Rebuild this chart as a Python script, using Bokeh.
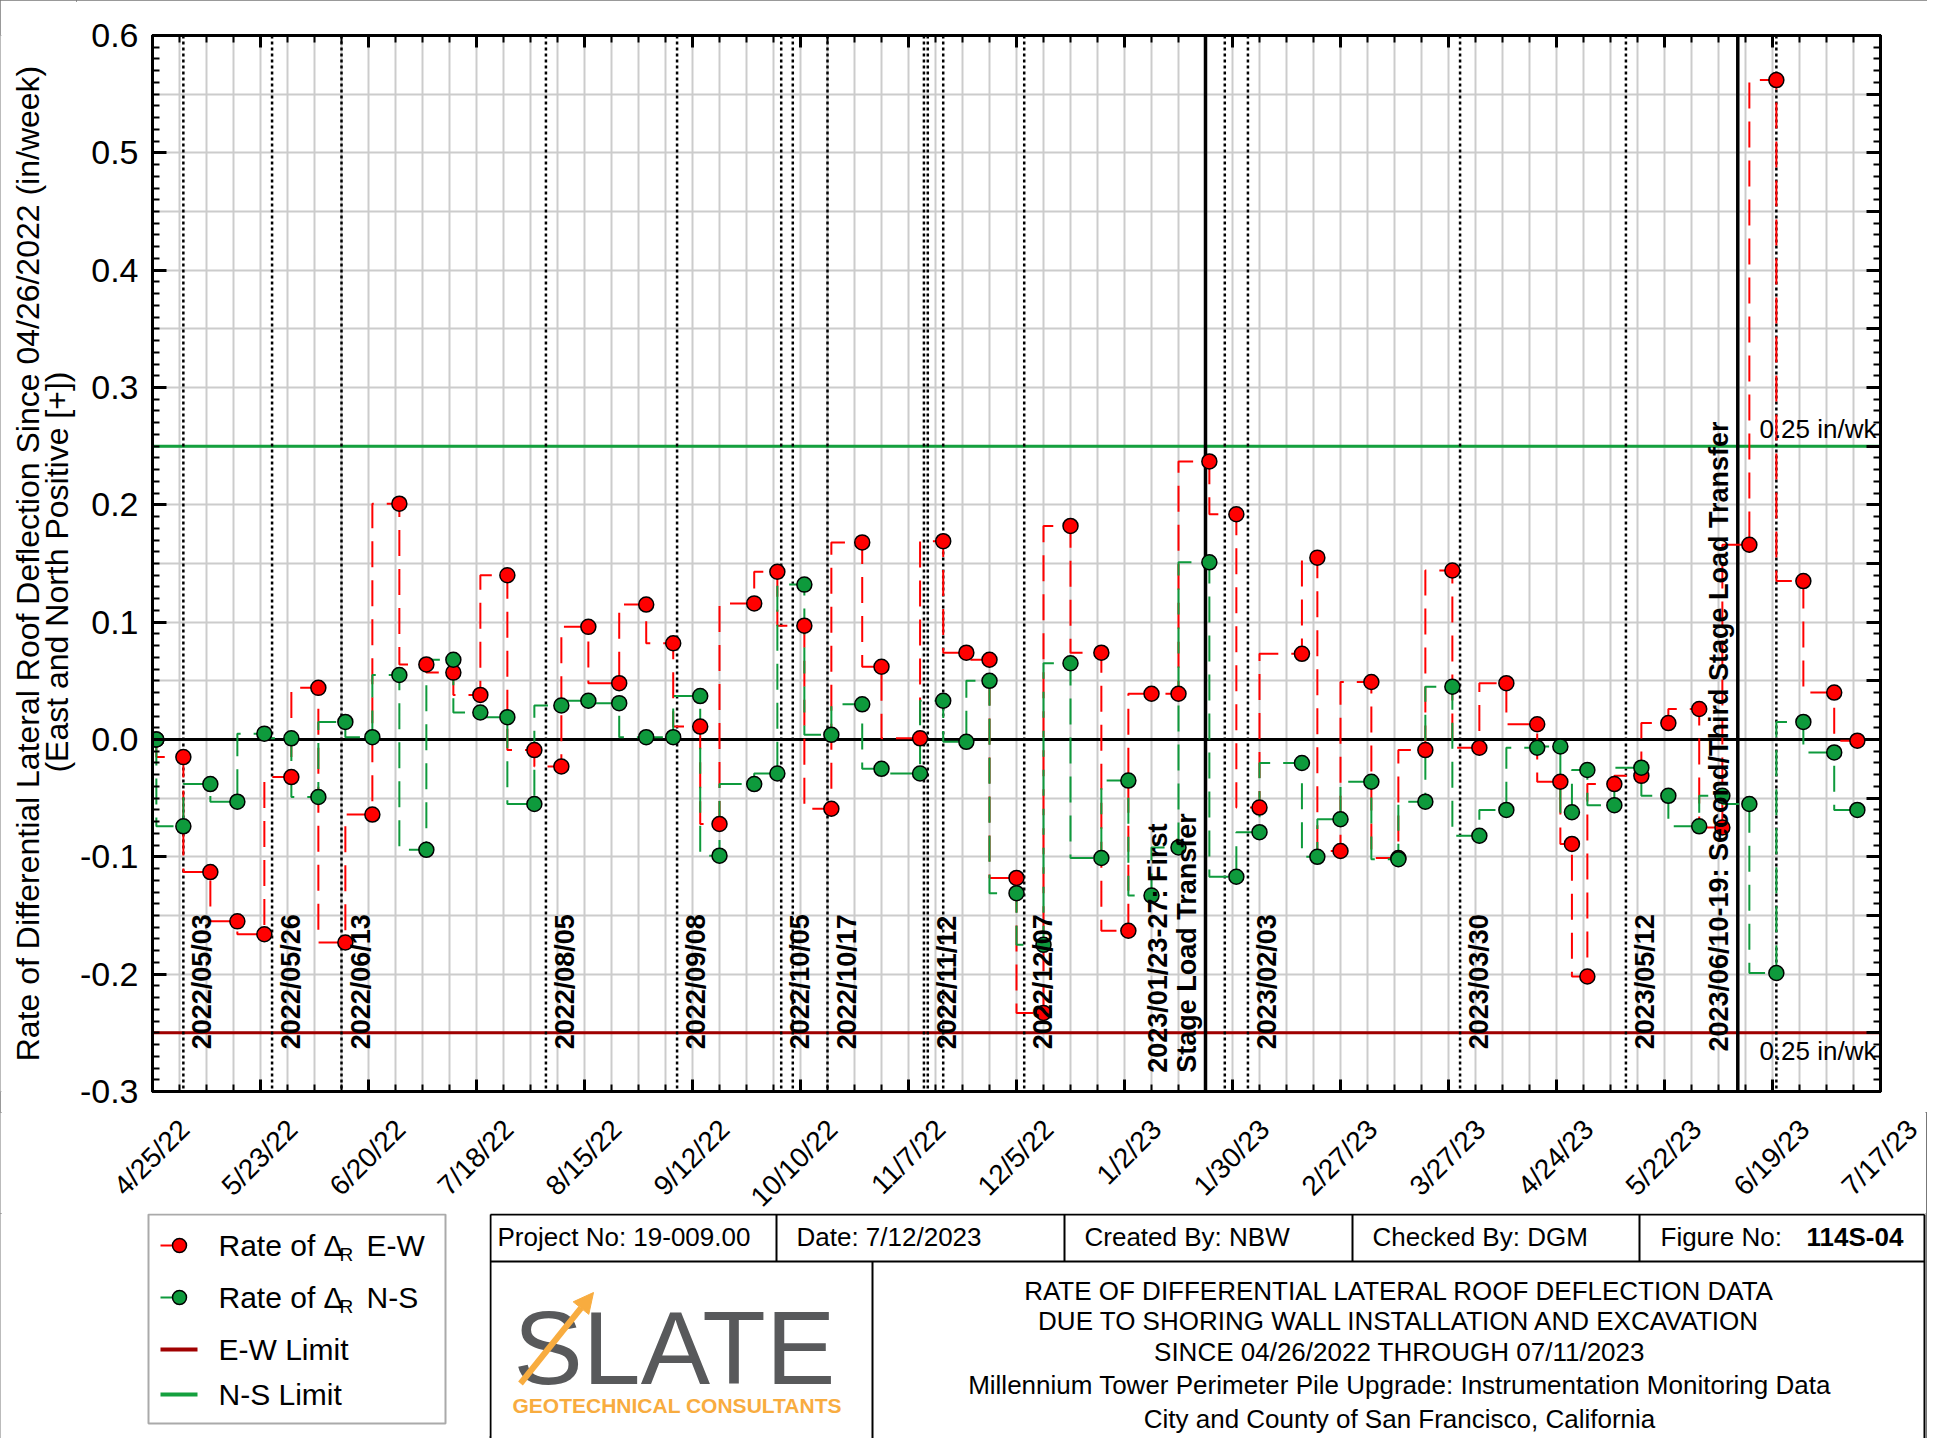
import numpy as np
import pandas as pd
from math import pi
from bokeh.plotting import figure
from bokeh.layouts import column, row
from bokeh.models import (Range1d, FixedTicker, LinearAxis, DatetimeAxis, Grid, Span,
                          ColumnDataSource, PrintfTickFormatter, Arrow, NormalHead)
from bokeh.core.properties import value
from bokeh.embed import file_html
from bokeh.resources import INLINE

# ---------------- data ----------------
dates = ["2022-04-26", "2022-05-03", "2022-05-10", "2022-05-17", "2022-05-24", "2022-05-31",
         "2022-06-07", "2022-06-14", "2022-06-21", "2022-06-28", "2022-07-05", "2022-07-12",
         "2022-07-19", "2022-07-26", "2022-08-02", "2022-08-09", "2022-08-16", "2022-08-24",
         "2022-08-31", "2022-09-07", "2022-09-14", "2022-09-19", "2022-09-28", "2022-10-04",
         "2022-10-11", "2022-10-18", "2022-10-26", "2022-10-31", "2022-11-10", "2022-11-16",
         "2022-11-22", "2022-11-28", "2022-12-05", "2022-12-12", "2022-12-19", "2022-12-27",
         "2023-01-03", "2023-01-09", "2023-01-16", "2023-01-24", "2023-01-31", "2023-02-06",
         "2023-02-17", "2023-02-21", "2023-02-27", "2023-03-07", "2023-03-14", "2023-03-21",
         "2023-03-28", "2023-04-04", "2023-04-11", "2023-04-19", "2023-04-25", "2023-04-28",
         "2023-05-02", "2023-05-09", "2023-05-16", "2023-05-23", "2023-05-31", "2023-06-06",
         "2023-06-13", "2023-06-20", "2023-06-27", "2023-07-05", "2023-07-11"]

ew_rate = [0.0, -0.015, -0.113, -0.155, -0.166, -0.032, 0.044, -0.173, -0.064, 0.201,
           0.064, 0.057, 0.038, 0.140, -0.009, -0.023, 0.096, 0.048, 0.115, 0.082,
           0.011, -0.072, 0.116, 0.143, 0.097, -0.059, 0.168, 0.062, 0.001, 0.169,
           0.074, 0.068, -0.118, -0.233, 0.182, 0.074, -0.163, 0.039, 0.039, 0.237,
           0.192, -0.058, 0.073, 0.155, -0.095, 0.049, -0.101, -0.009, 0.144, -0.007,
           0.048, 0.013, -0.036, -0.089, -0.202, -0.038, -0.031, 0.014, 0.026, -0.075,
           0.166, 0.562, 0.135, 0.040, -0.001]

ns_rate = [0.0, -0.074, -0.038, -0.053, 0.005, 0.001, -0.049, 0.015, 0.002, 0.055,
           -0.094, 0.068, 0.023, 0.019, -0.055, 0.029, 0.033, 0.031, 0.002, 0.002,
           0.037, -0.099, -0.038, -0.029, 0.132, 0.004, 0.030, -0.025, -0.029, 0.033,
           -0.002, 0.050, -0.131, -0.175, 0.065, -0.101, -0.035, -0.133, -0.092, 0.151,
           -0.117, -0.079, -0.020, -0.100, -0.068, -0.036, -0.102, -0.053, 0.045, -0.082,
           -0.060, -0.007, -0.006, -0.062, -0.026, -0.056, -0.024, -0.048, -0.074, -0.048,
           -0.055, -0.199, 0.015, -0.011, -0.060]

axis_start = "2022-04-25"
axis_end = "2023-07-17"
x_tick_dates = ["2022-04-25", "2022-05-23", "2022-06-20", "2022-07-18", "2022-08-15",
                "2022-09-12", "2022-10-10", "2022-11-07", "2022-12-05", "2023-01-02",
                "2023-01-30", "2023-02-27", "2023-03-27", "2023-04-24", "2023-05-22",
                "2023-06-19", "2023-07-17"]
x_tick_labels = ["4/25/22", "5/23/22", "6/20/22", "7/18/22", "8/15/22", "9/12/22",
                 "10/10/22", "11/7/22", "12/5/22", "1/2/23", "1/30/23", "2/27/23",
                 "3/27/23", "4/24/23", "5/22/23", "6/19/23", "7/17/23"]
y_ticks = [-0.3, -0.2, -0.1, 0.0, 0.1, 0.2, 0.3, 0.4, 0.5, 0.6]

ns_limit = 0.25
ew_limit = -0.25

event_dotted_dates = ["2022-05-03", "2022-05-26", "2022-06-13", "2022-08-05", "2022-09-08",
                      "2022-10-05", "2022-10-08", "2022-10-17", "2022-11-11", "2022-11-12",
                      "2022-11-16", "2022-12-07", "2023-01-28", "2023-02-03", "2023-03-30",
                      "2023-05-12", "2023-06-20"]
event_solid_dates = ["2023-01-23", "2023-06-10"]
event_label_dates = ["2022-05-03", "2022-05-26", "2022-06-13", "2022-08-05", "2022-09-08",
                     "2022-10-05", "2022-10-17", "2022-11-12", "2022-12-07", "2023-02-03",
                     "2023-03-30", "2023-05-12"]
event_labels = ["2022/05/03", "2022/05/26", "2022/06/13", "2022/08/05", "2022/09/08",
                "2022/10/05", "2022/10/17", "2022/11/12", "2022/12/07", "2023/02/03",
                "2023/03/30", "2023/05/12"]
stage1_label = ["2023/01/23-27: First", "Stage Load Transfer"]
stage2_label = "2023/06/10-19: Second/Third Stage Load Transfer"

# ---------------- styling ----------------
FONT = "Liberation Sans"
RED = "#ff0000"
GREEN = "#0e9a3c"
DARKRED = "#a00000"
LIMGREEN = "#14a03e"
GRIDC = "#cccccc"
ORANGE = "#f8ac3f"
LOGO_GRAY = "#58595b"


def ms(d):
    return pd.Timestamp(d).value / 1e6


x0, x1 = ms(axis_start), ms(axis_end)
FW, FH = 1728, 1056
WT = 76                      # width of the y-title strip
BL, BR, BT, BB = 75, 47, 35, 21
H1 = BT + FH + BB
TOTAL_W = WT + BL + FW + BR

weekly = [ms(d) for d in pd.date_range(axis_start, axis_end, freq="7D")]
major_x = [ms(d) for d in x_tick_dates]
y_grid = [round(v, 2) for v in np.arange(-0.3, 0.6001, 0.05)]
y_minor = [round(v, 2) for v in np.arange(-0.3, 0.6001, 0.01)]

src = ColumnDataSource(dict(x=[ms(d) for d in dates], ew=ew_rate, ns=ns_rate))

p = figure(x_range=Range1d(x0, x1), y_range=Range1d(-0.3, 0.6),
           x_axis_type=None, y_axis_type=None,
           frame_width=FW, frame_height=FH,
           min_border_left=BL, min_border_right=BR, min_border_top=BT, min_border_bottom=BB,
           toolbar_location=None, output_backend="svg",
           outline_line_color="black", outline_line_width=3,
           background_fill_color="white", border_fill_color="white")

hidden_labels = dict(major_label_text_font_size="0px", major_label_standoff=0)


def x_axis():
    return DatetimeAxis(ticker=FixedTicker(ticks=major_x, minor_ticks=weekly),
                        major_tick_in=12, major_tick_out=0, minor_tick_in=7, minor_tick_out=0,
                        axis_line_width=3, major_tick_line_width=3, minor_tick_line_width=2,
                        **hidden_labels)


p.add_layout(x_axis(), "below")
p.add_layout(x_axis(), "above")

yl = LinearAxis(ticker=FixedTicker(ticks=y_ticks, minor_ticks=y_minor),
                formatter=PrintfTickFormatter(format="%.1f"),
                major_label_text_font_size="34px", major_label_text_font=FONT,
                major_label_text_color="black", major_label_standoff=14,
                major_tick_in=14, major_tick_out=0, minor_tick_in=7, minor_tick_out=0,
                axis_line_width=3, major_tick_line_width=3, minor_tick_line_width=2)
p.add_layout(yl, "left")
yr = LinearAxis(ticker=FixedTicker(ticks=y_grid, minor_ticks=y_minor),
                major_tick_in=14, major_tick_out=0, minor_tick_in=7, minor_tick_out=0,
                axis_line_width=3, major_tick_line_width=3, minor_tick_line_width=2,
                **hidden_labels)
p.add_layout(yr, "right")

p.add_layout(Grid(dimension=0, ticker=FixedTicker(ticks=weekly),
                  grid_line_color=GRIDC, grid_line_width=2))
p.add_layout(Grid(dimension=1, ticker=FixedTicker(ticks=y_grid),
                  grid_line_color=GRIDC, grid_line_width=2))

# reference lines
p.add_layout(Span(location=0, dimension="width", line_color="black", line_width=3, level="underlay"))
p.add_layout(Span(location=ns_limit, dimension="width", line_color=LIMGREEN, line_width=3, level="underlay"))
p.add_layout(Span(location=ew_limit, dimension="width", line_color=DARKRED, line_width=3, level="underlay"))
for d in event_dotted_dates:
    p.add_layout(Span(location=ms(d), dimension="height", line_color="black",
                      line_width=2.5, line_dash="3 3", level="underlay"))
for d in event_solid_dates:
    p.add_layout(Span(location=ms(d), dimension="height", line_color="black",
                      line_width=3.5, level="underlay"))

# data series
p.step(x="x", y="ew", source=src, mode="before", line_color=RED, line_width=2, line_dash="26 13")
p.step(x="x", y="ns", source=src, mode="before", line_color=GREEN, line_width=2, line_dash="26 13")
p.scatter(x="x", y="ew", source=src, marker="circle", size=15, fill_color=RED,
          line_color="black", line_width=1.5)
p.scatter(x="x", y="ns", source=src, marker="circle", size=15, fill_color=GREEN,
          line_color="black", line_width=1.5)

# event labels
lab_font = dict(text_font=value(FONT), text_font_size=value("27px"), text_font_style="bold",
                text_color="black", angle=pi / 2)
p.text(x=[ms(d) for d in event_label_dates], y=-0.264, text=event_labels,
       text_align="left", text_baseline="top", x_offset=4, **lab_font)
p.text(x=[ms(event_solid_dates[0])], y=-0.284, text=[stage1_label[1]],
       text_align="left", text_baseline="bottom", x_offset=-4, **lab_font)
p.text(x=[ms(event_solid_dates[0])], y=-0.284, text=[stage1_label[0]],
       text_align="left", text_baseline="bottom", x_offset=-33, **lab_font)
p.text(x=[ms(event_solid_dates[1])], y=-0.266, text=[stage2_label],
       text_align="left", text_baseline="bottom", x_offset=-4, **lab_font)

lim_font = dict(text_font=value(FONT), text_font_size=value("26px"), text_color="black",
                text_align="right")
p.text(x=[x1], y=[ns_limit], text=["0.25 in/wk"], text_baseline="bottom",
       x_offset=-4, y_offset=-2, **lim_font)
p.text(x=[x1], y=[ew_limit], text=["0.25 in/wk"], text_baseline="top",
       x_offset=-4, y_offset=3, **lim_font)


# ---------------- helper canvas (pixel coordinates, y downwards) ----------------
def blank(w, h):
    return figure(width=w, height=h, x_range=Range1d(0, w), y_range=Range1d(h, 0),
                  x_axis_type=None, y_axis_type=None, toolbar_location=None,
                  min_border=0, outline_line_color=None, output_backend="svg",
                  background_fill_color="white", border_fill_color="white")


# y axis title
pt = blank(WT, H1)
pt.text(x=[27], y=[556], text=["Rate of Differential Lateral Roof Deflection Since 04/26/2022 (in/week)"],
        angle=pi / 2, text_align="center", text_baseline="middle",
        text_font=value(FONT), text_font_size=value("32px"), text_color="black")
pt.text(x=[56], y=[565], text=["(East and North Positive [+])"],
        angle=pi / 2, text_align="center", text_baseline="middle",
        text_font=value(FONT), text_font_size=value("32px"), text_color="black")

# x tick labels on the same date scale as the plot frame
mspp = (x1 - x0) / FW
H2 = 101
pl = figure(width=TOTAL_W, height=H2,
            x_range=Range1d(x0 - (WT + BL) * mspp, x1 + BR * mspp), y_range=Range1d(H2, 0),
            x_axis_type=None, y_axis_type=None, toolbar_location=None, min_border=0,
            outline_line_color=None, output_backend="svg",
            background_fill_color="white", border_fill_color="white")
pl.text(x=major_x, y=12, text=x_tick_labels, angle=pi / 4, text_align="right",
        text_baseline="middle", x_offset=33, text_font=value(FONT),
        text_font_size=value("28px"), text_color="black")

# legend
H3 = 225
WL = 489
leg = blank(WL, H3)
leg.quad(left=148, right=445, top=1, bottom=210, fill_color="white",
         line_color="#aaaaaa", line_width=2)
item_y = [32, 84, 136, 181]
leg.segment(x0=[160, 160], y0=item_y[:2], x1=[178, 178], y1=item_y[:2],
            line_color=[RED, GREEN], line_width=2)
leg.scatter(x=[179, 179], y=item_y[:2], size=14, fill_color=[RED, GREEN],
            line_color="black", line_width=1.5)
leg.segment(x0=[160, 160], y0=item_y[2:], x1=[197, 197], y1=item_y[2:],
            line_color=[DARKRED, LIMGREEN], line_width=4)
tf = dict(text_font=value(FONT), text_color="black", text_baseline="middle", text_align="left")
leg.text(x=[218, 218], y=item_y[:2], text=["Rate of Δ", "Rate of Δ"],
         text_font_size=value("30px"), **tf)
leg.text(x=[339, 339], y=[v + 9 for v in item_y[:2]], text=["R", "R"],
         text_font_size=value("19px"), **tf)
leg.text(x=[366, 366], y=item_y[:2], text=["E-W", "N-S"],
         text_font_size=value("30px"), **tf)
leg.text(x=[218, 218], y=item_y[2:], text=["E-W Limit", "N-S Limit"],
         text_font_size=value("30px"), **tf)

# title block
WB = TOTAL_W - WL
tb = blank(WB, H3)
tb.segment(x0=[1, 1, WB - 2, 1, 383, 287, 575, 863, 1150],
           y0=[1, 1, 1, 48, 48, 1, 1, 1, 1],
           x1=[WB - 2, 1, WB - 2, WB - 2, 383, 287, 575, 863, 1150],
           y1=[1, H3, H3, 48, H3, 48, 48, 48, 48],
           line_color="black", line_width=2)
tb.text(x=[8, 307, 595, 883, 1171], y=23,
        text=["Project No: 19-009.00", "Date:  7/12/2023", "Created By:  NBW",
              "Checked By:  DGM", "Figure No:"],
        text_font_size=value("26px"), **tf)
tb.text(x=[1317], y=[23], text=["114S-04"], text_font_size=value("26px"),
        text_font_style="bold", **tf)
tb.text(x=910, y=[77, 107, 138, 171, 205],
        text=["RATE OF DIFFERENTIAL LATERAL ROOF DEFLECTION DATA",
              "DUE TO SHORING WALL INSTALLATION AND EXCAVATION",
              "SINCE 04/26/2022 THROUGH 07/11/2023",
              "Millennium Tower Perimeter Pile Upgrade: Instrumentation Monitoring Data",
              "City and County of San Francisco, California"],
        text_font=value(FONT), text_font_size=value("26px"), text_color="black",
        text_align="center", text_baseline="middle")
# logo
tb.text(x=[24], y=[134], text=["SLATE"],
        text_font=value(FONT), text_font_size=value("104px"),
        text_color=LOGO_GRAY, text_align="left", text_baseline="middle")
tb.text(x=[23], y=[192], text=["GEOTECHNICAL CONSULTANTS"], text_font=value(FONT),
        text_font_size=value("21px"), text_font_style="bold", text_color=ORANGE,
        text_align="left", text_baseline="middle")
tb.add_layout(Arrow(end=NormalHead(size=20, fill_color=ORANGE, line_color=ORANGE),
                    x_start=31, y_start=170, x_end=104, y_end=79,
                    line_color=ORANGE, line_width=6))

layout = column(row(pt, p), pl, row(leg, tb),
                styles={"outline": "2px solid #777777", "outline-offset": "-2px"})

open("out.html", "w").write(file_html(layout, INLINE))
